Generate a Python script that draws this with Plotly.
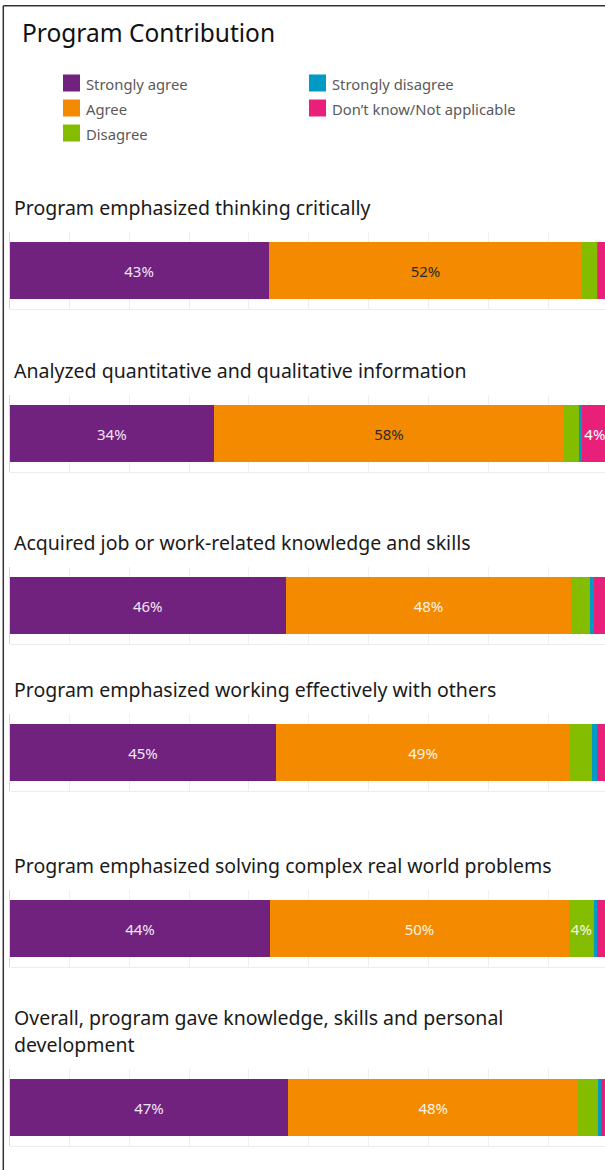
import plotly.graph_objects as go

# ── Data ─────────────────────────────────────────────────────────────────────

CATEGORIES = [
    "Strongly agree",
    "Agree",
    "Disagree",
    "Strongly disagree",
    "Don’t know/Not applicable",
]

QUESTIONS = [
    "Program emphasized thinking critically",
    "Analyzed quantitative and qualitative information",
    "Acquired job or work-related knowledge and skills",
    "Program emphasized working effectively with others",
    "Program emphasized solving complex real world problems",
    "Overall, program gave knowledge, skills and personal<br>development",
]

# percent of responses, one value per question
STRONGLY_AGREE = [43.3, 34.2, 46.2, 44.6, 43.6, 46.6]
AGREE = [52.4, 58.4, 47.6, 49.0, 49.8, 48.4]
DISAGREE = [2.4, 2.6, 3.2, 3.8, 4.3, 3.4]
STRONGLY_DISAGREE = [0.3, 0.4, 0.7, 0.8, 0.5, 0.5]
DONT_KNOW = [1.6, 4.4, 2.3, 1.8, 1.8, 1.1]

SERIES = [STRONGLY_AGREE, AGREE, DISAGREE, STRONGLY_DISAGREE, DONT_KNOW]

# ── Style / layout ───────────────────────────────────────────────────────────

W, H = 605, 1170
FONT = "Noto Sans"

COLORS = ["#71227f", "#f38a00", "#84bd00", "#009ac4", "#e9207a"]
LABEL_MIN = 4.0  # segments narrower than this get no label

# label colour per series, per panel (orange labels are dark in first two panels)
LABEL_COLORS = [
    ["#efe6f2"] * 6,
    ["#2b2b2b", "#2b2b2b", "#fff4e6", "#fff4e6", "#fff4e6", "#fff4e6"],
    ["#f2f8e6"] * 6,
    ["#ffffff"] * 6,
    ["#ffffff"] * 6,
]

PANEL_TOP = [232, 395, 567, 714, 890, 1069]   # px, top of gridlines
PANEL_H = 77                                  # px
TITLE_BASE = [215, 378, 550, 697, 873, 1025]  # px, baseline of first title line
X0_PX = 9.5                                   # px, zero of the x axis
PX_PER_PCT = 5.985


def py(p):
    """pixel row -> paper y"""
    return 1 - p / H


def px(p):
    """pixel column -> paper x"""
    return p / W


fig = go.Figure()

x_max = (W - X0_PX) / PX_PER_PCT

for i, q in enumerate(QUESTIONS):
    n = "" if i == 0 else str(i + 1)
    for k, (cat, vals) in enumerate(zip(CATEGORIES, SERIES)):
        v = vals[i]
        fig.add_trace(
            go.Bar(
                x=[v], y=[0],
                orientation="h",
                name=cat,
                marker=dict(color=COLORS[k], line=dict(width=0)),
                text=[f"{int(v + 0.5)}%" if v >= LABEL_MIN else ""],
                textposition="inside",
                insidetextanchor="middle",
                textangle=0,
                textfont=dict(family=FONT, size=15, color=LABEL_COLORS[k][i]),
                showlegend=False,
                hoverinfo="skip",
                xaxis="x" + n, yaxis="y" + n,
            )
        )

    top, bot = PANEL_TOP[i], PANEL_TOP[i] + PANEL_H
    fig.layout["xaxis" + n] = dict(
        domain=[px(X0_PX), 1], range=[0, x_max], anchor="y" + n,
        tick0=0, dtick=10, showticklabels=False, ticks="",
        showgrid=True, gridcolor="#efefef", gridwidth=1,
        zeroline=True, zerolinecolor="#d6d6d6", zerolinewidth=1,
        showline=True, linecolor="#ececec", linewidth=1,
        fixedrange=True,
    )
    fig.layout["yaxis" + n] = dict(
        domain=[py(bot), py(top)], range=[-0.5, 0.5], anchor="x" + n,
        visible=False, fixedrange=True,
    )

    # panel title (two lines for the last one)
    for j, line in enumerate(q.split("<br>")):
        fs = 19.5
        base = TITLE_BASE[i] + j * 27
        fig.add_annotation(
            x=px(12), y=py(base - 0.39 * fs), xref="paper", yref="paper",
            text=line, showarrow=False, xanchor="left", yanchor="middle",
            font=dict(family=FONT, size=fs, color="#1a1a1a"),
        )

# main title
fig.add_annotation(
    x=px(20), y=py(42 - 0.39 * 24.5), xref="paper", yref="paper",
    text="Program Contribution", showarrow=False,
    xanchor="left", yanchor="middle",
    font=dict(family=FONT, size=24.5, color="#111111"),
)

# legend: two columns, drawn with shapes + text
LEG_COL_X = [63, 309]
LEG_ROW_Y = [83, 108, 133]
for k, cat in enumerate(CATEGORIES):
    col, row = (0, k) if k < 3 else (1, k - 3)
    lx, ly = LEG_COL_X[col], LEG_ROW_Y[row]
    fig.add_shape(
        type="rect", xref="paper", yref="paper",
        x0=px(lx), x1=px(lx + 17), y0=py(ly + 8.5), y1=py(ly - 8.5),
        fillcolor=COLORS[k], line=dict(width=0),
    )
    fig.add_annotation(
        x=px(lx + 21), y=py(ly + 1), xref="paper", yref="paper",
        text=cat, showarrow=False, xanchor="left", yanchor="middle",
        font=dict(family=FONT, size=14.8, color="#5a5a5a"),
    )

# outer frame (left + top edges visible)
fig.add_shape(type="line", xref="paper", yref="paper",
              x0=px(3.3), x1=px(3.3), y0=0, y1=py(5.7),
              line=dict(color="#333333", width=1.5))
fig.add_shape(type="line", xref="paper", yref="paper",
              x0=px(3.3), x1=1, y0=py(5.7), y1=py(5.7),
              line=dict(color="#333333", width=1.5))

fig.update_layout(
    width=W, height=H,
    barmode="stack",
    bargap=0.25,
    margin=dict(l=0, r=0, t=0, b=0),
    plot_bgcolor="white",
    paper_bgcolor="white",
    showlegend=False,
    font=dict(family=FONT),
    uniformtext=dict(minsize=15, mode="show"),
)

fig.write_html(
    "out.html",
    config={"displayModeBar": False},
    post_script="document.body.style.margin='0';",
)
